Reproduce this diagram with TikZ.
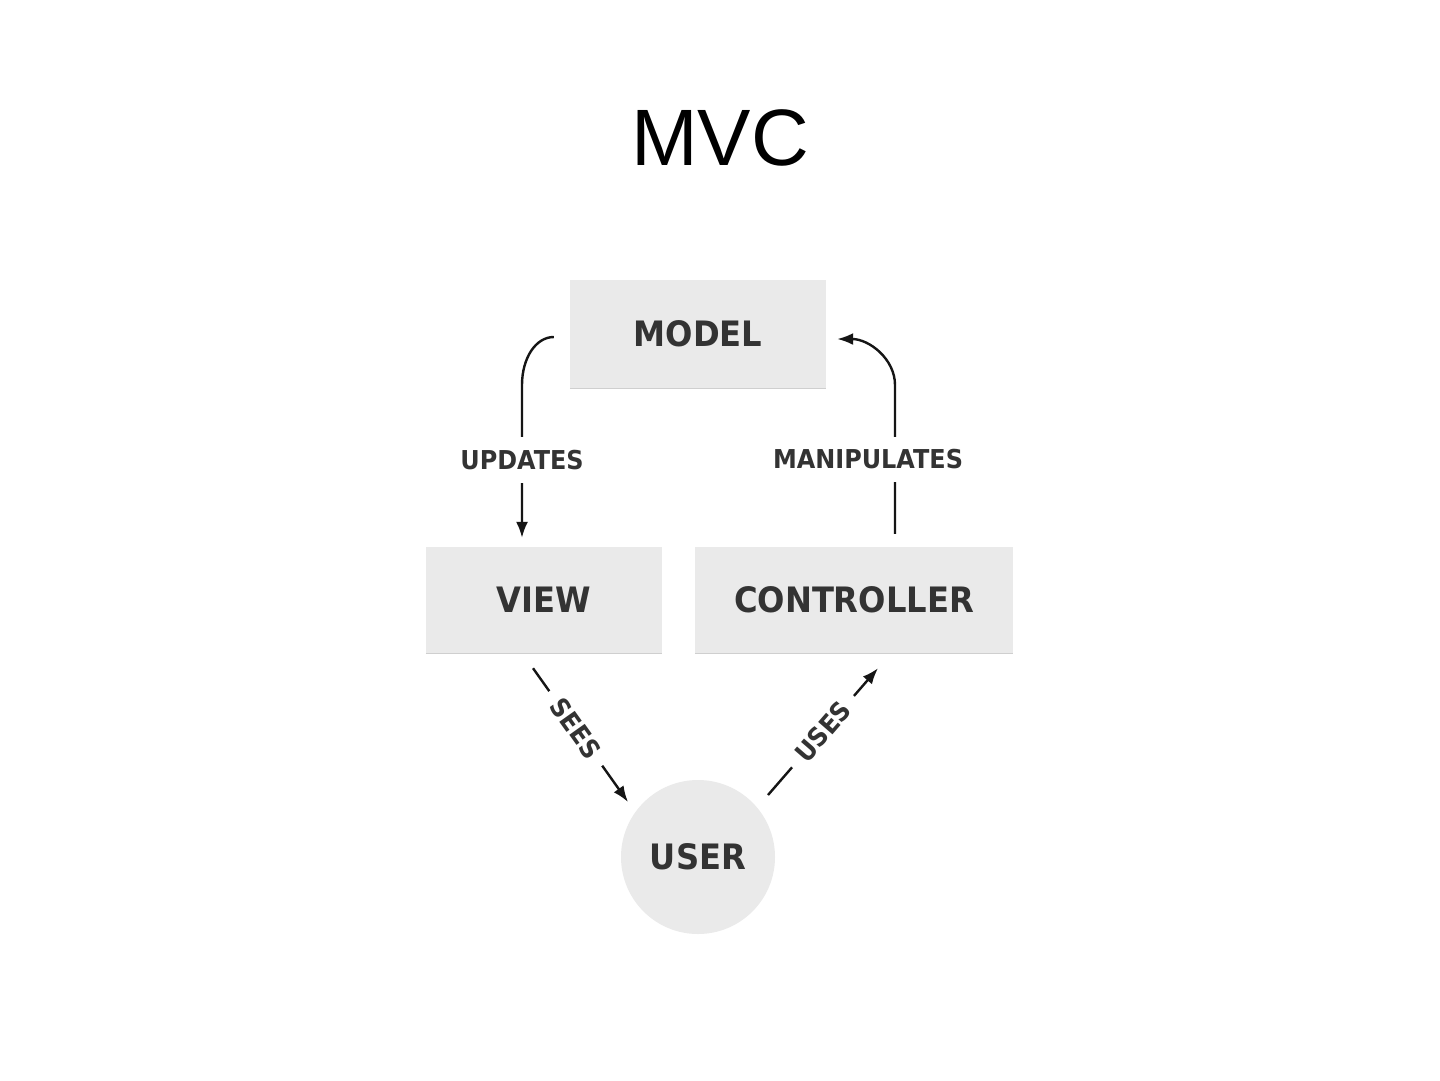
\documentclass[tikz,border=0pt]{standalone}
\usepackage{fontspec}
\setmainfont{Liberation Sans}
\newfontfamily\labfont[FakeStretch=0.92]{DejaVu Sans}
\usetikzlibrary{arrows.meta}
\definecolor{boxgray}{HTML}{EAEAEA}
\definecolor{txtgray}{HTML}{333333}
\definecolor{linegray}{HTML}{151515}
\definecolor{shadowgray}{HTML}{CFCFCF}
\begin{document}
\begin{tikzpicture}[x=1pt,y=-1pt,
  box/.style={fill=boxgray, inner sep=0pt, text=txtgray,
    font=\labfont\bfseries\fontsize{35}{40}\selectfont},
  conn/.style={draw=linegray, line width=2.4pt},
  arr/.style={conn, -{Latex[length=16pt,width=12pt]}},
  lab/.style={fill=white, inner xsep=12pt, inner ysep=13pt, text=txtgray,
    font=\labfont\bfseries\fontsize{26}{30}\selectfont},
  shadowline/.style={draw=shadowgray, line width=1.2pt}
]
\path[use as bounding box, fill=white] (0,0) rectangle (1440,1080);

\node[font=\fontsize{80}{90}\selectfont] (title) at (720,138) {MVC};

\node[box, minimum width=256pt, minimum height=108pt] (model) at (698,334) {MODEL};
\node[box, minimum width=236pt, minimum height=106pt] (view) at (544,600) {VIEW};
\node[box, minimum width=318pt, minimum height=106pt] (ctrl) at (854,600) {CONTROLLER};
\node[box, circle, minimum size=154pt] (user) at (698,857) {USER};

\draw[shadowline] (model.south west) -- (model.south east);
\draw[shadowline] (view.south west) -- (view.south east);
\draw[shadowline] (ctrl.south west) -- (ctrl.south east);

\coordinate (u1) at (522,385);
\coordinate (m1) at (895,385);

% UPDATES
\draw[arr] ([xshift=-16pt,yshift=-3pt]model.west)
  .. controls +(-18,0) and +(0,-27) .. (u1)
  -- node[lab, pos=0.49] (lupd) {UPDATES} ([xshift=-22pt,yshift=9pt]view.north);

% MANIPULATES
\draw[arr] ([xshift=41pt,yshift=13pt]ctrl.north)
  -- node[lab, pos=0.50, xshift=-27pt] (lman) {MANIPULATES} (m1)
  .. controls +(0,-26) and +(32,0) .. ([xshift=11pt,yshift=-5pt]model.east);

% SEES
\draw[arr] ([xshift=-11pt,yshift=-15pt]view.south)
  -- node[lab, sloped, pos=0.45] (lsees) {SEES} ([xshift=-70pt,yshift=55pt]user.center);

% USES
\draw[arr] ([xshift=70pt,yshift=62pt]user.center)
  -- node[lab, sloped, pos=0.5] (luses) {USES} ([xshift=24pt,yshift=-15pt]ctrl.south);
\end{tikzpicture}
\end{document}
